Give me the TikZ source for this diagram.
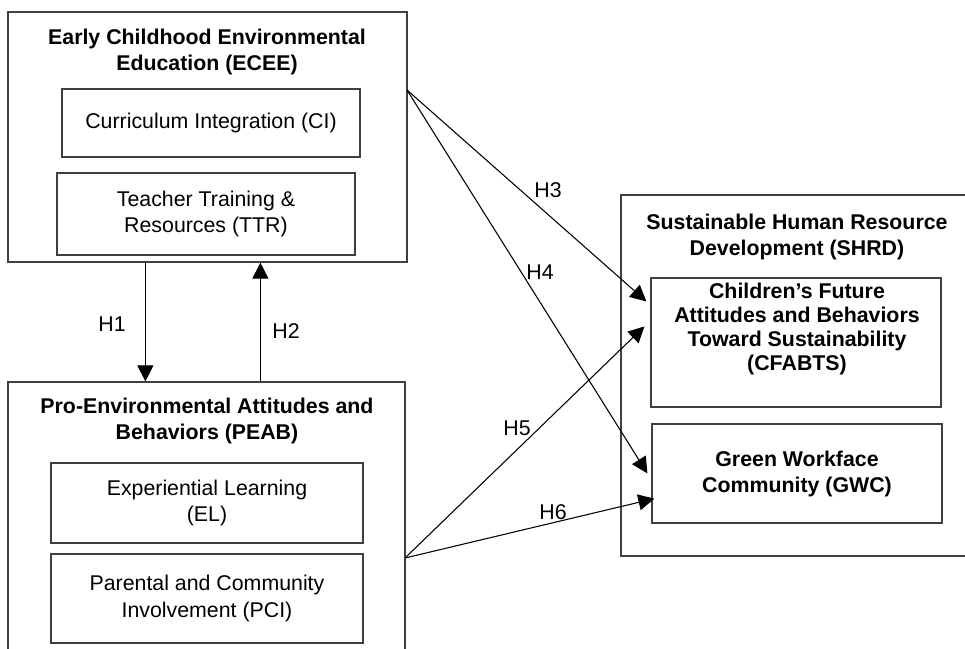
\documentclass[tikz,border=0pt]{standalone}
\usepackage{fontspec}
\setmainfont{Liberation Sans}
\usetikzlibrary{arrows.meta,calc,fit}

\begin{document}
\begin{tikzpicture}[x=0.75pt,y=-0.75pt,
  frame/.style={draw=black!75,line width=0.9pt,inner sep=0pt},
  txt/.style={align=center,font=\fontsize{16}{20}\selectfont},
  head/.style={align=center,font=\fontsize{16}{19.5}\selectfont\bfseries},
  hyp/.style={font=\fontsize{16}{20}\selectfont},
  arr/.style={-{Triangle[length=12pt,width=12pt]},line width=0.8pt}]
\useasboundingbox (0,0) rectangle (965,649);
\clip (0,0) rectangle (965,649);

% early childhood environmental education
\node[frame,fit={(8,12) (407,262)}] (ecee) {};
\node[head] (ecee-t) at (207,52) {Early Childhood Environmental\\Education (ECEE)};
\node[frame,fit={(62,89) (360,157)},label={[txt]center:Curriculum Integration (CI)}] (ci) {};
\node[frame,fit={(57,173) (355,255)},label={[txt]center:Teacher Training \&\\Resources (TTR)}] (ttr) {};

% pro-environmental attitudes, runs off the bottom
\node[frame,fit={(8,382) (405,700)}] (peab) {};
\node[head] (peab-t) at (207,420.5) {Pro-Environmental Attitudes and\\Behaviors (PEAB)};
\node[frame,fit={(51,463) (363,543)},label={[txt]center:Experiential Learning\\(EL)}] (el) {};
\node[frame,fit={(51,554) (363,643)},label={[txt]center:Parental and Community\\Involvement (PCI)}] (pci) {};

% sustainable HRD, runs off the right
\node[frame,fit={(621,195) (1000,556)}] (shrd) {};
\node[head] (shrd-t) at (797,237) {Sustainable Human Resource\\Development (SHRD)};
\node[frame,fit={(651,278) (941,407)}] (cfabts) {};
\node[head,font=\fontsize{16}{18}\selectfont\bfseries] (cfabts-t) at (797,328.5)
  {Children's Future\\Attitudes and Behaviors\\Toward Sustainability\\(CFABTS)};
\node[frame,fit={(652,424) (942,523)},label={[head]center:Green Workface\\Community (GWC)}] (gwc) {};

\coordinate (ecee-out) at (407,90);
\coordinate (peab-out) at (405,558);

% hypotheses
\draw[arr] ($(ecee.south west)+(138,0)$) -- ($(peab.north west)+(138,0)$);
\draw[arr] ($(peab.north west)+(253,0)$) -- ($(ecee.south west)+(253,0)$);
\draw[arr] (ecee-out) -- ($(cfabts.north west)+(-4,24)$);
\draw[arr] (ecee-out) -- ($(gwc.north west)+(-4,50)$);
\draw[arr] (peab-out) -- ($(cfabts.north west)+(-6,49)$);
\draw[arr] (peab-out) -- ($(gwc.south west)+(3,-25)$);

\node[hyp] (h1) at (112,324) {H1};
\node[hyp] (h2) at (286,331) {H2};
\node[hyp] (h3) at (548,190) {H3};
\node[hyp] (h4) at (540,272) {H4};
\node[hyp] (h5) at (517,428) {H5};
\node[hyp] (h6) at (553,512) {H6};
\end{tikzpicture}
\end{document}
